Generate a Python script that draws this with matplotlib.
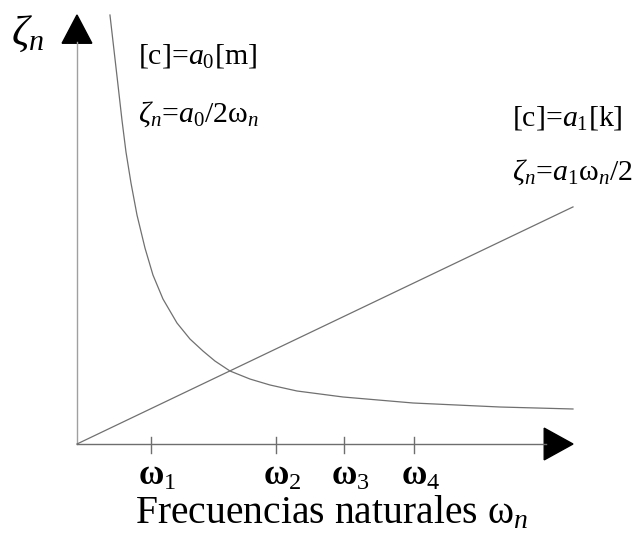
import numpy as np
import matplotlib
matplotlib.use("Agg")
import matplotlib.pyplot as plt
from matplotlib.patches import Polygon

plt.rcParams['font.family'] = ['Liberation Serif', 'DejaVu Serif']
plt.rcParams['mathtext.fontset'] = 'custom'
plt.rcParams['mathtext.rm'] = 'Liberation Serif'
plt.rcParams['mathtext.it'] = 'Liberation Serif:italic'
plt.rcParams['mathtext.bf'] = 'Liberation Serif:bold'

# curve zeta = a0 / 2w
w_mass = [0.665, 0.746, 0.827, 0.907, 0.988, 1.089, 1.210, 1.371, 1.532, 1.734,
          2.016, 2.278, 2.540, 2.782, 3.085, 3.488, 3.891, 4.435, 5.363, 6.774,
          8.528, 10.0]
z_mass = [8.649, 7.944, 7.238, 6.532, 5.887, 5.262, 4.617, 3.952, 3.407, 2.923,
          2.440, 2.117, 1.875, 1.673, 1.472, 1.310, 1.190, 1.069, 0.948, 0.827,
          0.746, 0.706]

# line zeta = a1 w / 2
w_stiff = [0.0, 10.0]
z_stiff = [0.0, 4.78]

# natural frequencies on the x axis
w_ticks = [1.49, 4.01, 5.38, 6.79]
tick_labels = [r'$\mathbf{\omega}_\mathrm{1}$', r'$\mathbf{\omega}_\mathrm{2}$',
               r'$\mathbf{\omega}_\mathrm{3}$', r'$\mathbf{\omega}_\mathrm{4}$']

fig = plt.figure(figsize=(6.32, 5.38), dpi=100)
ax = fig.add_axes([0, 0, 1, 1])
ax.set_xlim(-1.552, 11.190)
ax.set_ylim(-1.895, 8.952)
ax.axis('off')

# axes with arrow heads
ax.plot([0, 0], [0, 8.1], color='#a0a0a0', lw=1.0)
ax.plot([0, 9.45], [0, 0], color='#6e6e6e', lw=1.0)
ax.add_patch(Polygon([[-0.30, 8.08], [0.30, 8.08], [0.0, 8.65]], closed=True, color='black'))
ax.add_patch(Polygon([[9.42, 0.32], [9.42, -0.32], [10.0, 0.0]], closed=True, color='black'))

for w in w_ticks:
    ax.plot([w, w], [0.14, -0.18], color='#6e6e6e', lw=1.0)
for w, lab in zip(w_ticks, tick_labels):
    ax.text(w - 0.26, -0.83, lab, fontsize=25, ha='left', va='baseline')

ax.plot(w_mass, z_mass, color='#707070', lw=0.9)
ax.plot(w_stiff, z_stiff, color='#707070', lw=0.9)

ax.text(-1.33, 8.05, r'$\zeta_n$', fontsize=31, ha='left', va='baseline')
ax.text(1.23, 7.68, r'[c]=$a_0$[m]', fontsize=21.5, ha='left', va='baseline')
ax.text(1.23, 6.49, r'$\zeta_n$=$a_0$/2$\mathrm{\omega}_n$', fontsize=21.5, ha='left', va='baseline')
ax.text(8.77, 6.43, r'[c]=$a_1$[k]', fontsize=21.5, ha='left', va='baseline')
ax.text(8.77, 5.32, r'$\zeta_n$=$a_1\mathrm{\omega}_n$/2', fontsize=21.5, ha='left', va='baseline')
ax.text(1.17, -1.59, r'Frecuencias naturales $\mathrm{\omega}_n$', fontsize=28.5, ha='left', va='baseline')

fig.savefig('out.png', dpi=100)
